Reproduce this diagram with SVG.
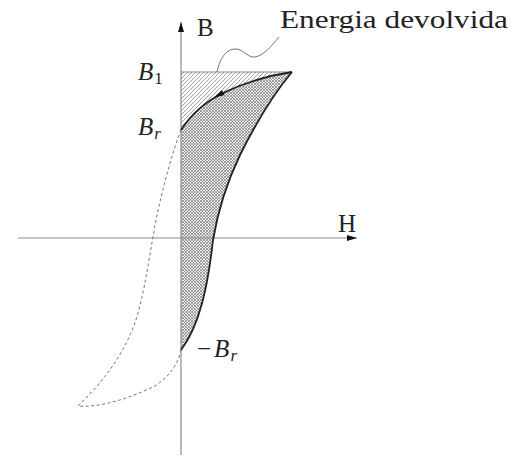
<svg xmlns="http://www.w3.org/2000/svg" width="515" height="459" viewBox="0 0 515 459">
<style>
.axis{stroke:#8a8a8a;stroke-width:1.2;fill:none}
.solid{stroke:#222;stroke-width:1.8;fill:none}
.dash{stroke:#777;stroke-width:1;fill:none;stroke-dasharray:3 2.5}
.lbl{font-family:"Liberation Serif",serif;font-size:25px;fill:#222}
.it{font-style:italic}
.sub{font-size:17px}
</style>
<defs>
<pattern id="hatch" patternUnits="userSpaceOnUse" width="4" height="4">
<path d="M-1,5 L5,-1 M-1,1 L1,-1 M3,5 L5,3" stroke="#777" stroke-width="0.7"/>
</pattern>
<pattern id="cross" patternUnits="userSpaceOnUse" width="3" height="3">
<rect width="3" height="3" fill="#eeeeee"/>
<path d="M0,0 L3,3 M3,0 L0,3" stroke="#6a6a6a" stroke-width="0.6"/>
</pattern>
<marker id="ah" viewBox="0 0 10 6" refX="10" refY="3" markerWidth="10" markerHeight="6" markerUnits="userSpaceOnUse" orient="auto">
<path d="M0,0 L10,3 L0,6 Z" fill="#111"/>
</marker>
</defs>
<g id="regions">
<path id="hatched" d="M181,72 L292,72 C265,76 240,85 223,93 C205,102 192,113 181,130 Z" fill="url(#hatch)" stroke="none"/>
<path id="crosshatched" d="M181,130 C192,113 205,102 223,93 C240,85 265,76 292,72 C275,92 255,125 240,155 C228,180 218,210 213,240 C208,285 200,325 181,350 Z" fill="url(#cross)" stroke="none"/>
</g>
<g id="connectors">
<line class="axis" x1="181" y1="455" x2="181" y2="22" marker-end="url(#ah)"/>
<line class="axis" x1="18" y1="238" x2="357" y2="238" marker-end="url(#ah)"/>
<line class="axis" x1="181" y1="72" x2="292" y2="72"/>
<path class="solid" d="M181,130 C192,113 205,102 223,93 C240,85 265,76 292,72"/>
<path class="solid" d="M292,72 C275,92 255,125 240,155 C228,180 218,210 213,240 C208,285 200,325 181,350"/>
<path d="M214,97.5 L222,90 L224.5,95 Z" fill="#111"/>
<path class="dash" d="M181,130 C175,145 164,180 155,225 C148,265 142,310 130,335 C118,362 100,385 78,406 C100,408 130,398 155,386 C170,376 178,364 181,350"/>
<path d="M279,37 C272,45 265,55 255,57 C247,58 243,48 234,49 C224,50 219,62 217,72" fill="none" stroke="#666" stroke-width="0.9"/>
</g>
<g id="labels">
<text class="lbl" x="197" y="36" font-size="23">B</text>
<text class="lbl" x="280" y="28" textLength="228" lengthAdjust="spacingAndGlyphs">Energia devolvida</text>
<text class="lbl it" x="138" y="80">B<tspan class="sub" font-style="normal" dx="1" dy="4">1</tspan></text>
<text class="lbl it" x="138" y="135">B<tspan class="sub" dx="1" dy="4">r</tspan></text>
<text class="lbl" x="197" y="357">−<tspan class="it" dx="3">B</tspan><tspan class="it sub" dx="1" dy="4">r</tspan></text>
<text class="lbl" x="338" y="232" font-size="23">H</text>
</g>
</svg>
